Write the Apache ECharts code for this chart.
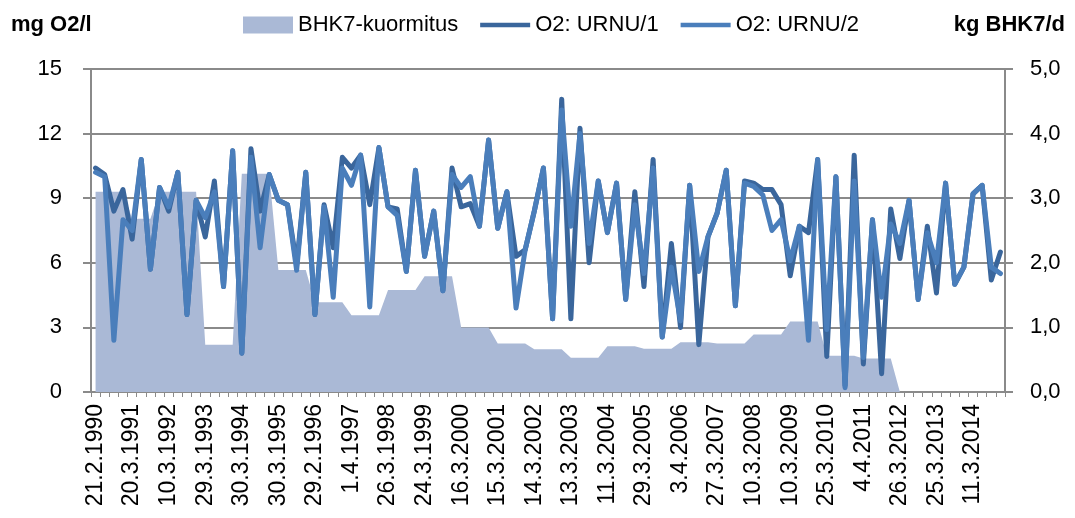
<!DOCTYPE html>
<html lang="fi">
<head>
    <meta charset="utf-8"/>
    <title>BHK7 / O2</title>
    <style>
        html, body { margin: 0; padding: 0; background: #fff; }
        #chart { width: 1075px; height: 518px; }
    </style>
</head>
<body>
<div id="chart"></div>

<script type="text/javascript" src="https://cdn.jsdelivr.net/npm/echarts@6/dist/echarts.min.js"></script>
<script type="text/javascript">
    // first sample of every year, shown on the x axis (every 4th point)
    var tickLabels = ['21.2.1990', '20.3.1991', '10.3.1992', '29.3.1993', '30.3.1994', '30.3.1995',
        '29.2.1996', '1.4.1997', '26.3.1998', '24.3.1999', '16.3.2000', '15.3.2001', '14.3.2002',
        '13.3.2003', '11.3.2004', '29.3.2005', '3.4.2006', '27.3.2007', '10.3.2008', '10.3.2009',
        '25.3.2010', '4.4.2011', '26.3.2012', '25.3.2013', '11.3.2014'];
    var samplesPerLabel = 4;

    // kg BHK7/d (right axis)
    var bhk7 = [
        3.1, 3.1, 3.1, 3.1, 2.68, 2.68, 2.68, 3.1, 3.1, 3.1, 3.1, 3.1,
        0.73, 0.73, 0.73, 0.73, 3.38, 3.38, 3.38, 3.38, 1.89, 1.89, 1.89, 1.89,
        1.39, 1.39, 1.39, 1.39, 1.19, 1.19, 1.19, 1.19, 1.58, 1.58, 1.58, 1.58,
        1.79, 1.79, 1.79, 1.79, 1.0, 1.0, 1.0, 1.0, 0.75, 0.75, 0.75, 0.75,
        0.66, 0.66, 0.66, 0.66, 0.53, 0.53, 0.53, 0.53, 0.71, 0.71, 0.71, 0.71,
        0.67, 0.67, 0.67, 0.67, 0.77, 0.77, 0.77, 0.77, 0.75, 0.75, 0.75, 0.75,
        0.89, 0.89, 0.89, 0.89, 1.09, 1.09, 1.09, 1.09, 0.56, 0.56, 0.56, 0.56,
        0.52, 0.52, 0.52, 0.52, 0, 0, 0, 0, 0, 0, 0, 0, 0, 0, 0, 0
    ];

    // mg O2/l (left axis)
    var urnu1 = [
        10.4, 10.1, 8.4, 9.4, 7.1, 10.8, 5.7, 9.5, 8.4, 10.2, 3.6, 8.9,
        7.2, 9.8, 4.9, 11.2, 1.8, 11.3, 8.4, 10.1, 8.9, 8.7, 5.9, 10.2,
        3.6, 8.7, 6.7, 10.9, 10.4, 11.0, 8.7, 11.35, 8.6, 8.5, 5.6, 10.3,
        6.3, 8.4, 4.7, 10.4, 8.6, 8.75, 7.7, 11.7, 7.6, 9.3, 6.3, 6.6,
        8.4, 10.4, 3.4, 13.6, 3.4, 12.25, 6.0, 9.8, 7.4, 9.7, 4.3, 9.3,
        4.9, 10.8, 2.55, 6.9, 3.0, 9.6, 2.2, 7.2, 8.3, 10.3, 4.0, 9.8,
        9.7, 9.4, 9.4, 8.7, 5.4, 7.7, 7.4, 10.8, 1.65, 10.0, 0.3, 11.0,
        1.3, 8.0, 0.85, 8.5, 6.2, 8.9, 4.3, 7.7, 4.6, 9.7, 5.0, 5.8,
        9.2, 9.6, 5.2, 6.5
    ];
    var urnu2 = [
        10.2, 10.0, 2.4, 8.0, 7.5, 10.8, 5.7, 9.5, 8.6, 10.2, 3.6, 8.9,
        8.1, 9.3, 4.9, 11.2, 1.8, 10.9, 6.7, 10.1, 8.9, 8.7, 5.65, 10.2,
        3.6, 8.6, 4.4, 10.4, 9.6, 11.0, 3.95, 11.35, 8.6, 8.2, 5.6, 10.3,
        6.3, 8.4, 4.7, 10.1, 9.5, 10.0, 7.7, 11.7, 7.6, 9.3, 3.9, 6.6,
        8.4, 10.4, 3.4, 13.1, 7.7, 12.0, 6.9, 9.8, 7.4, 9.7, 4.3, 8.7,
        5.5, 10.4, 2.55, 5.8, 3.3, 9.6, 5.6, 7.2, 8.3, 10.3, 4.0, 9.7,
        9.55, 9.15, 7.5, 8.0, 6.1, 7.7, 2.4, 10.8, 2.9, 10.0, 0.2, 9.8,
        1.6, 8.0, 4.4, 7.8, 6.9, 8.9, 4.3, 7.4, 6.0, 9.7, 5.0, 5.8,
        9.2, 9.6, 5.8, 5.5
    ];

    var categories = urnu1.map(function (v, i) {
        return i % samplesPerLabel === 0 ? tickLabels[i / samplesPerLabel] : '';
    });

    var font = 'Liberation Sans';
    var gray = '#8a8a8a';
    var lineIcon = 'path://M0,0 L54,0 L54,5 L0,5 Z';

    var chart = echarts.init(document.getElementById('chart'), null, {renderer: 'canvas'});

    chart.setOption({
        animation: false,
        textStyle: {fontFamily: font},
        title: [
            {text: 'mg O2/l', left: 6, top: 9, textStyle: {fontSize: 22, fontWeight: 'bold', color: '#000', fontFamily: font}},
            {text: 'kg BHK7/d', right: 5, top: 9, textStyle: {fontSize: 22, fontWeight: 'bold', color: '#000', fontFamily: font}}
        ],
        legend: {
            left: 243,
            top: 14,
            padding: 0,
            itemWidth: 50,
            itemHeight: 17,
            itemGap: 22,
            textStyle: {fontSize: 22, color: '#000', fontFamily: font},
            data: [
                {name: 'BHK7-kuormitus', icon: 'rect'},
                {name: 'O2: URNU/1', icon: lineIcon},
                {name: 'O2: URNU/2', icon: lineIcon}
            ]
        },
        grid: {left: 91, right: 70, top: 69, bottom: 126, containLabel: false, outerBoundsMode: 'none'},
        xAxis: {
            type: 'category',
            data: categories,
            boundaryGap: true,
            axisLine: {lineStyle: {color: gray, width: 2}},
            axisTick: {show: true, interval: 0, length: 5, lineStyle: {color: gray, width: 1}},
            axisLabel: {interval: 0, rotate: 90, margin: 12, fontSize: 23, color: '#000', fontFamily: font},
            splitLine: {show: false}
        },
        yAxis: [
            {
                type: 'value', min: 0, max: 15, interval: 3,
                axisLine: {show: true, lineStyle: {color: gray, width: 2}},
                axisTick: {show: true, length: 8, lineStyle: {color: gray, width: 2}},
                axisLabel: {margin: 29, fontSize: 22, color: '#000', fontFamily: font},
                splitLine: {show: true, lineStyle: {color: gray, width: 2}}
            },
            {
                type: 'value', min: 0, max: 5, interval: 1,
                axisLine: {show: true, lineStyle: {color: gray, width: 2}},
                axisTick: {show: true, length: 8, lineStyle: {color: gray, width: 2}},
                axisLabel: {
                    margin: 25, fontSize: 22, color: '#000', fontFamily: font,
                    formatter: function (v) { return v.toFixed(1).replace('.', ','); }
                },
                splitLine: {show: false}
            }
        ],
        series: [
            {
                name: 'BHK7-kuormitus',
                type: 'line',
                yAxisIndex: 1,
                data: bhk7,
                symbol: 'none',
                color: '#aab9d6',
                lineStyle: {width: 0, color: '#aab9d6'},
                areaStyle: {color: '#aab9d6', opacity: 1},
                z: 1
            },
            {
                name: 'O2: URNU/1',
                type: 'line',
                data: urnu1,
                symbol: 'none',
                color: '#3a669c',
                lineStyle: {width: 5, color: '#3a669c', cap: 'round', join: 'round'},
                z: 2
            },
            {
                name: 'O2: URNU/2',
                type: 'line',
                data: urnu2,
                symbol: 'none',
                color: '#4a7ebb',
                lineStyle: {width: 5, color: '#4a7ebb', cap: 'round', join: 'round'},
                z: 3
            }
        ]
    });
</script>
</body>
</html>
